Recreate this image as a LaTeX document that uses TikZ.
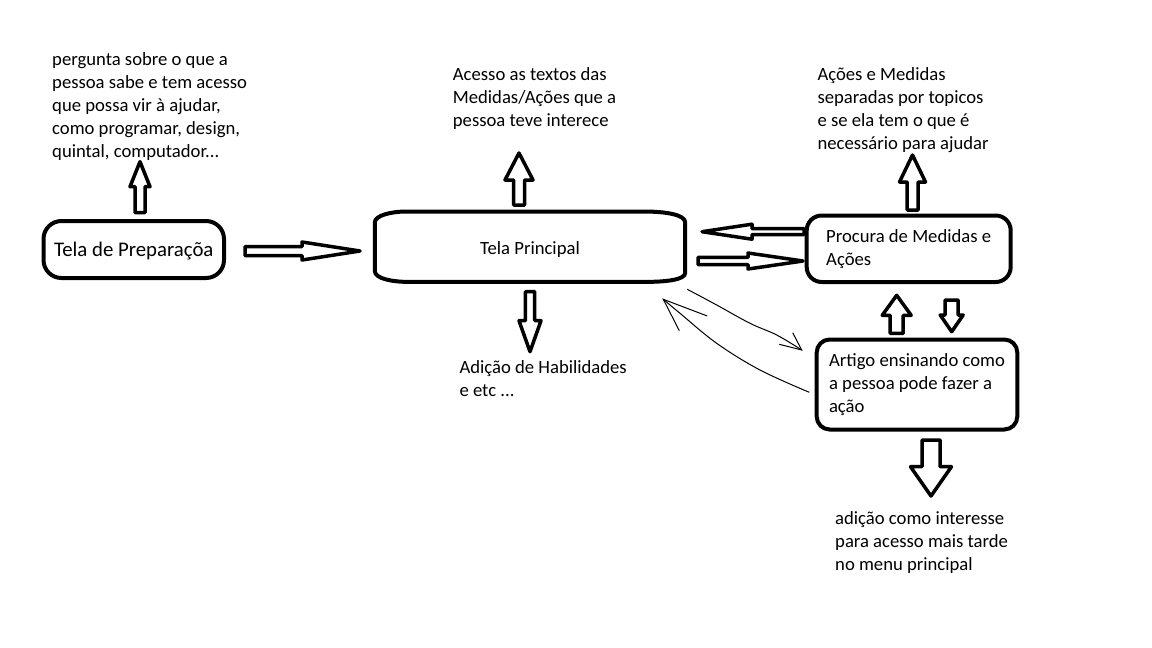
\documentclass[tikz,border=0pt]{standalone}
\usepackage{fontspec}
\setmainfont{Carlito}
\usetikzlibrary{calc}
\newcommand\blockarr[7]{\draw[blk, shift={(#1,#2)}, rotate=#3] (0,-#6) -- ({#4-#5},-#6) -- ({#4-#5},-#7) -- (#4,0) -- ({#4-#5},#7) -- ({#4-#5},#6) -- (0,#6) -- cycle;}
\begin{document}
\begin{tikzpicture}[x=1pt,y=-1pt,
  box/.style={draw, line width=4pt, rounded corners=15pt, inner sep=0pt, align=left},
  blk/.style={draw, line width=3.5pt, line join=round},
  txt/.style={anchor=north west, inner sep=0pt, align=left},
  thinline/.style={draw, line width=1pt},
  font=\fontsize{18.67}{23}\selectfont]
\fill[white] (0,0) rectangle (1152,648);
\path[use as bounding box] (0,0) rectangle (1152,648);

% text blocks
\node[txt] (t1) at (52,52.5) {pergunta sobre o que a\\pessoa sabe e tem acesso\\que possa vir à ajudar,\\como programar, design,\\quintal, computador{.}{.}{.}};
\node[txt] (t2) at (452.7,67.7) {Acesso as textos das\\Medidas/Ações que a\\pessoa teve interece};
\node[txt] (t3) at (817.3,67) {Ações e Medidas\\separadas por topicos\\e se ela tem o que é\\necessário para ajudar};
\node[txt] (t4) at (459.3,360.3) {Adição de Habilidades\\e etc {.}{.}{.}};
\node[txt] (t5) at (835,511) {adição como interesse\\para acesso mais tarde\\no menu principal};

% boxes
\node[box, minimum width=180.5, minimum height=57, rounded corners=18pt, text height=15pt, text depth=2pt, font=\fontsize{20.8}{25}\selectfont] (prep) at (133.75,249.5) {Tela de Preparaçõa};
\node[inner sep=0pt, minimum width=310, minimum height=70, text height=16pt, text depth=0pt] (main) at (530,246.7) {Tela Principal};
\draw[line width=4pt]
  ($(main.north west)+(0,11)$) -- ($(main.south west)+(0,-11)$)
  .. controls ($(main.south west)+(0,-3)$) and ($(main.south west)+(18,0)$) .. ($(main.south west)+(34,0)$)
  -- ($(main.south east)+(-40,0)$)
  .. controls ($(main.south east)+(-20,0)$) and ($(main.south east)+(0,-2)$) .. ($(main.south east)+(0,-9)$)
  -- ($(main.north east)+(0,11)$)
  .. controls ($(main.north east)+(0,3)$) and ($(main.north east)+(-20,0)$) .. ($(main.north east)+(-42,0)$)
  -- ($(main.north west)+(32,0)$)
  .. controls ($(main.north west)+(16,0)$) and ($(main.north west)+(0,4)$) .. cycle;
\node[box, minimum width=204, minimum height=66.5] (proc) at (908.7,248.75) {Procura de Medidas e\\Ações};
\node[box, minimum width=200.6, minimum height=90, rounded corners=13pt] (art) at (917,384.5) {Artigo ensinando como\\a pessoa pode fazer a\\ação};

% block arrows: tail x, tail y, angle, length, head length, shaft half, head half
\blockarr{140}{212.7}{90}{51}{25}{5}{10}
\blockarr{245}{251}{0}{115}{58}{4.5}{9}
\blockarr{519}{205}{90}{52}{27}{5.5}{14}
\blockarr{530}{291.7}{-90}{60}{31}{4.7}{11}
\blockarr{804}{231.7}{180}{102}{50}{3}{7.5}
\blockarr{698}{261}{0}{105}{55}{3.7}{8}
\blockarr{912.5}{210}{90}{55}{27}{5.5}{13}
\blockarr{896.7}{333.3}{90}{38}{20}{6.5}{14.5}
\blockarr{951.7}{300}{-90}{31.7}{16.7}{6.5}{11.5}
\blockarr{931}{440}{-90}{56}{29.3}{9}{20.5}

% hand-drawn thin arrows
\draw[thinline] plot[smooth, tension=0.6] coordinates {(687.3,289.3) (716.7,305) (750,323.3) (776.7,335) (801.7,350)};
\draw[thinline] (779.3,344.3) -- (801.7,350) -- (792.7,332.7);
\draw[thinline] plot[smooth, tension=0.6] coordinates {(809.3,392.3) (760,370) (716.7,343.3) (680,313.3) (663.3,299.3)};
\draw[thinline] (707.3,316) -- (663.3,299.3) -- (679.3,330.7);
\end{tikzpicture}
\end{document}
